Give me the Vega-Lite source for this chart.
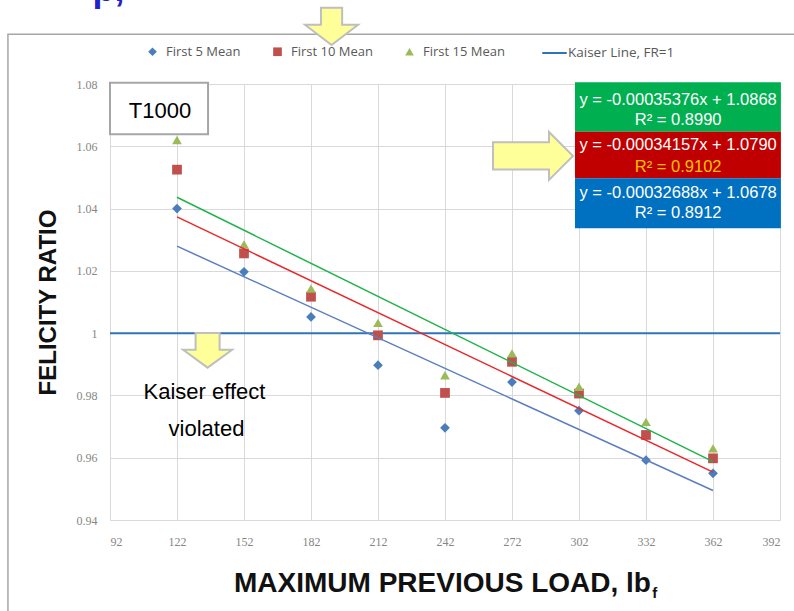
{
  "$schema": "https://vega.github.io/schema/vega-lite/v6.json",
  "width": 670,
  "height": 436,
  "autosize": {"type": "none"},
  "padding": {"left": 110, "top": 84, "right": 14, "bottom": 91},
  "background": "white",
  "config": {
    "view": {"stroke": null},
    "legend": {"padding": 0}
  },
  "datasets": {
    "points": [
      {"load": 122, "series": "First 5 Mean", "ratio": 1.0400},
      {"load": 152, "series": "First 5 Mean", "ratio": 1.0197},
      {"load": 182, "series": "First 5 Mean", "ratio": 1.0052},
      {"load": 212, "series": "First 5 Mean", "ratio": 0.9897},
      {"load": 242, "series": "First 5 Mean", "ratio": 0.9696},
      {"load": 272, "series": "First 5 Mean", "ratio": 0.9843},
      {"load": 302, "series": "First 5 Mean", "ratio": 0.9751},
      {"load": 332, "series": "First 5 Mean", "ratio": 0.9592},
      {"load": 362, "series": "First 5 Mean", "ratio": 0.9550},
      {"load": 122, "series": "First 10 Mean", "ratio": 1.0525},
      {"load": 152, "series": "First 10 Mean", "ratio": 1.0256},
      {"load": 182, "series": "First 10 Mean", "ratio": 1.0117},
      {"load": 212, "series": "First 10 Mean", "ratio": 0.9993},
      {"load": 242, "series": "First 10 Mean", "ratio": 0.9808},
      {"load": 272, "series": "First 10 Mean", "ratio": 0.9908},
      {"load": 302, "series": "First 10 Mean", "ratio": 0.9806},
      {"load": 332, "series": "First 10 Mean", "ratio": 0.9673},
      {"load": 362, "series": "First 10 Mean", "ratio": 0.9598},
      {"load": 122, "series": "First 15 Mean", "ratio": 1.0620},
      {"load": 152, "series": "First 15 Mean", "ratio": 1.0285},
      {"load": 182, "series": "First 15 Mean", "ratio": 1.0143},
      {"load": 212, "series": "First 15 Mean", "ratio": 1.0033},
      {"load": 242, "series": "First 15 Mean", "ratio": 0.9865},
      {"load": 272, "series": "First 15 Mean", "ratio": 0.9935},
      {"load": 302, "series": "First 15 Mean", "ratio": 0.9828},
      {"load": 332, "series": "First 15 Mean", "ratio": 0.9715},
      {"load": 362, "series": "First 15 Mean", "ratio": 0.9630}
    ],
    "trend5": [{"load": 122, "ratio": 1.02792}, {"load": 362, "ratio": 0.94947}],
    "trend10": [{"load": 122, "ratio": 1.03733}, {"load": 362, "ratio": 0.95535}],
    "trend15": [{"load": 122, "ratio": 1.04364}, {"load": 362, "ratio": 0.95874}],
    "kaiser": [{"ratio": 1, "line": "Kaiser Line, FR=1"}],
    "one": [{}]
  },
  "layer": [
    {
      "data": {"name": "one"},
      "mark": {"type": "rect", "fillOpacity": 0, "stroke": "#a6a6a6", "strokeWidth": 1.5},
      "encoding": {
        "x": {"datum": 46.3}, "x2": {"datum": 400},
        "y": {"datum": 1.096}, "y2": {"datum": 0.90}
      }
    },
    {
      "data": {"name": "kaiser"},
      "mark": {"type": "rule", "strokeWidth": 2},
      "encoding": {
        "y": {"field": "ratio", "type": "quantitative"},
        "stroke": {
          "field": "line", "type": "nominal",
          "scale": {"domain": ["Kaiser Line, FR=1"], "range": ["#2e75b6"]},
          "legend": {
            "title": null, "orient": "none", "direction": "horizontal",
            "legendX": 431, "legendY": -44.5,
            "labelFont": "Open Sans", "labelFontSize": 13.5, "labelColor": "#595959",
            "symbolSize": 600, "symbolStrokeWidth": 2, "labelOffset": 0
          }
        }
      }
    },
    {
      "data": {"name": "points"},
      "mark": {"type": "point", "filled": true, "opacity": 1, "size": 95},
      "encoding": {
        "x": {
          "field": "load", "type": "quantitative",
          "scale": {"domain": [92, 392], "nice": false, "zero": false},
          "title": "MAXIMUM PREVIOUS LOAD, lb",
          "axis": {
            "values": [92, 122, 152, 182, 212, 242, 272, 302, 332, 362, 392],
            "grid": true, "gridColor": "#d9d9d9", "domain": false, "ticks": false,
            "labelFont": "Liberation Serif", "labelFontSize": 12, "labelColor": "#868686",
            "labelPadding": 16,
            "titleFont": "Liberation Sans", "titleFontSize": 28, "titleFontWeight": "bold",
            "titleColor": "#111111", "titleX": 332, "titleY": 71, "titleBaseline": "alphabetic",
            "titleAlign": "center"
          }
        },
        "y": {
          "field": "ratio", "type": "quantitative",
          "scale": {"domain": [0.94, 1.08], "nice": false, "zero": false},
          "title": "FELICITY RATIO",
          "axis": {
            "values": [0.94, 0.96, 0.98, 1, 1.02, 1.04, 1.06, 1.08],
            "format": ".2~f",
            "grid": true, "gridColor": "#d9d9d9", "domain": false, "ticks": false,
            "labelFont": "Liberation Serif", "labelFontSize": 12, "labelColor": "#868686",
            "labelPadding": 13,
            "titleFont": "Liberation Sans", "titleFontSize": 24, "titleFontWeight": "bold",
            "titleColor": "#111111", "titleX": -55, "titleY": 218, "titleBaseline": "alphabetic",
            "titleAlign": "center", "titleAngle": -90
          }
        },
        "color": {
          "field": "series", "type": "nominal",
          "scale": {"domain": ["First 5 Mean", "First 10 Mean", "First 15 Mean"], "range": ["#4a7ebb", "#c0504d", "#9bbb59"]},
          "legend": {
            "title": null, "orient": "none", "direction": "horizontal",
            "legendX": 36, "legendY": -39,
            "labelFont": "Open Sans", "labelFontSize": 13, "labelColor": "#595959",
            "symbolSize": 75, "labelOffset": 7, "columnPadding": 30
          }
        },
        "shape": {
          "field": "series", "type": "nominal",
          "scale": {"domain": ["First 5 Mean", "First 10 Mean", "First 15 Mean"], "range": ["diamond", "square", "triangle-up"]},
          "legend": {
            "title": null, "orient": "none", "direction": "horizontal",
            "legendX": 36, "legendY": -39,
            "labelFont": "Open Sans", "labelFontSize": 13, "labelColor": "#595959",
            "symbolSize": 75, "labelOffset": 7, "columnPadding": 30
          }
        }
      }
    },
    {
      "data": {"name": "trend5"},
      "mark": {"type": "line", "color": "#5b7ec0", "strokeWidth": 1.5},
      "encoding": {"x": {"field": "load", "type": "quantitative"}, "y": {"field": "ratio", "type": "quantitative"}}
    },
    {
      "data": {"name": "trend10"},
      "mark": {"type": "line", "color": "#e8282a", "strokeWidth": 1.5},
      "encoding": {"x": {"field": "load", "type": "quantitative"}, "y": {"field": "ratio", "type": "quantitative"}}
    },
    {
      "data": {"name": "trend15"},
      "mark": {"type": "line", "color": "#1fb34a", "strokeWidth": 1.5},
      "encoding": {"x": {"field": "load", "type": "quantitative"}, "y": {"field": "ratio", "type": "quantitative"}}
    },
    {
      "data": {"name": "one"},
      "mark": {"type": "rect", "fill": "#00b050"},
      "encoding": {"x": {"datum": 300.2}, "x2": {"datum": 392.4}, "y": {"datum": 1.0806}, "y2": {"datum": 1.0647}}
    },
    {
      "data": {"name": "one"},
      "mark": {"type": "rect", "fill": "#c00000"},
      "encoding": {"x": {"datum": 300.2}, "x2": {"datum": 392.4}, "y": {"datum": 1.0647}, "y2": {"datum": 1.0497}}
    },
    {
      "data": {"name": "one"},
      "mark": {"type": "rect", "fill": "#0070c0"},
      "encoding": {"x": {"datum": 300.2}, "x2": {"datum": 392.4}, "y": {"datum": 1.0497}, "y2": {"datum": 1.0337}}
    },
    {
      "data": {"name": "one"},
      "mark": {"type": "text", "text": "y = -0.00035376x + 1.0868", "color": "white", "font": "Liberation Sans", "fontSize": 16.5, "align": "center", "baseline": "middle"},
      "encoding": {"x": {"datum": 346.4}, "y": {"datum": 1.0749}}
    },
    {
      "data": {"name": "one"},
      "mark": {"type": "text", "text": "R² = 0.8990", "color": "white", "font": "Liberation Sans", "fontSize": 16.5, "align": "center", "baseline": "middle"},
      "encoding": {"x": {"datum": 346.4}, "y": {"datum": 1.0684}}
    },
    {
      "data": {"name": "one"},
      "mark": {"type": "text", "text": "y = -0.00034157x + 1.0790", "color": "white", "font": "Liberation Sans", "fontSize": 16.5, "align": "center", "baseline": "middle"},
      "encoding": {"x": {"datum": 346.4}, "y": {"datum": 1.0604}}
    },
    {
      "data": {"name": "one"},
      "mark": {"type": "text", "text": "R² = 0.9102", "color": "#ffc000", "font": "Liberation Sans", "fontSize": 16.5, "align": "center", "baseline": "middle"},
      "encoding": {"x": {"datum": 346.4}, "y": {"datum": 1.0535}}
    },
    {
      "data": {"name": "one"},
      "mark": {"type": "text", "text": "y = -0.00032688x + 1.0678", "color": "white", "font": "Liberation Sans", "fontSize": 16.5, "align": "center", "baseline": "middle"},
      "encoding": {"x": {"datum": 346.4}, "y": {"datum": 1.0449}}
    },
    {
      "data": {"name": "one"},
      "mark": {"type": "text", "text": "R² = 0.8912", "color": "white", "font": "Liberation Sans", "fontSize": 16.5, "align": "center", "baseline": "middle"},
      "encoding": {"x": {"datum": 346.4}, "y": {"datum": 1.0385}}
    },
    {
      "data": {"name": "one"},
      "mark": {"type": "rect", "fill": "white", "stroke": "#a6a6a6", "strokeWidth": 2},
      "encoding": {"x": {"datum": 92}, "x2": {"datum": 135.9}, "y": {"datum": 1.0804}, "y2": {"datum": 1.0639}}
    },
    {
      "data": {"name": "one"},
      "mark": {"type": "text", "text": "T1000", "color": "black", "font": "Liberation Sans", "fontSize": 22, "align": "center", "baseline": "alphabetic"},
      "encoding": {"x": {"datum": 114.4}, "y": {"datum": 1.0691}}
    },
    {
      "data": {"name": "one"},
      "mark": {"type": "text", "text": "Kaiser effect", "color": "black", "font": "Liberation Sans", "fontSize": 22, "align": "center", "baseline": "alphabetic"},
      "encoding": {"x": {"datum": 134.3}, "y": {"datum": 0.9789}}
    },
    {
      "data": {"name": "one"},
      "mark": {"type": "text", "text": "violated", "color": "black", "font": "Liberation Sans", "fontSize": 22, "align": "center", "baseline": "alphabetic"},
      "encoding": {"x": {"datum": 135.2}, "y": {"datum": 0.9670}}
    },
    {
      "data": {"name": "one"},
      "mark": {"type": "point", "filled": true, "opacity": 1, "fill": "#ffff99", "stroke": "#bfbfbf", "strokeWidth": 2, "size": 2809,
               "shape": "M-0.4,-0.7 L0.4,-0.7 L0.4,-0.06 L1,-0.06 L0,0.7 L-1,-0.06 L-0.4,-0.06 Z"},
      "encoding": {"x": {"datum": 191.2}, "y": {"datum": 1.0985}}
    },
    {
      "data": {"name": "one"},
      "mark": {"type": "point", "filled": true, "opacity": 1, "fill": "#ffff99", "stroke": "#bfbfbf", "strokeWidth": 2, "size": 6400,
               "shape": "M-1,-0.34 L0.4,-0.34 L0.4,-0.6 L1,0 L0.4,0.6 L0.4,0.34 L-1,0.34 Z"},
      "encoding": {"x": {"datum": 281.4}, "y": {"datum": 1.0569}}
    },
    {
      "data": {"name": "one"},
      "mark": {"type": "point", "filled": true, "opacity": 1, "fill": "#ffff99", "stroke": "#bfbfbf", "strokeWidth": 2, "size": 2401,
               "shape": "M-0.49,-0.71 L0.49,-0.71 L0.49,-0.02 L1,-0.02 L0,0.71 L-1,-0.02 L-0.49,-0.02 Z"},
      "encoding": {"x": {"datum": 135.7}, "y": {"datum": 0.9945}}
    },
    {
      "data": {"name": "one"},
      "mark": {"type": "text", "text": "f", "color": "#111111", "font": "Liberation Sans", "fontWeight": "bold", "fontSize": 15, "align": "left", "baseline": "alphabetic"},
      "encoding": {"x": {"datum": 334.8}, "y": {"datum": 0.915}}
    },
    {
      "data": {"name": "one"},
      "mark": {"type": "text", "text": "p,", "color": "#2222cc", "font": "Liberation Sans", "fontWeight": "bold", "fontSize": 36, "align": "left", "baseline": "alphabetic"},
      "encoding": {"x": {"datum": 84.2}, "y": {"datum": 1.1068}}
    }
  ]
}
